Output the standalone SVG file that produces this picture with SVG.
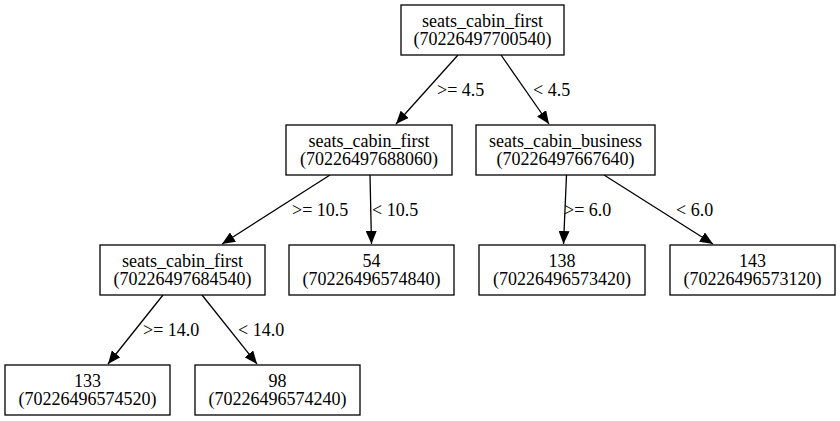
<svg xmlns="http://www.w3.org/2000/svg" width="840" height="421" viewBox="0 0 840 421">
<defs>
<style>
.box{fill:#fff;stroke:#000;stroke-width:1.3}
text{font-family:"Liberation Serif","Times New Roman",serif;font-size:18px;fill:#000}
.c{text-anchor:middle}
.e{stroke:#000;stroke-width:1.3;fill:none;marker-end:url(#ah)}
</style>
<marker id="ah" markerUnits="userSpaceOnUse" viewBox="0 0 13 11" refX="13" refY="5.5" markerWidth="13" markerHeight="11" orient="auto">
<path d="M0,0 L13,5.5 L0,11 z" fill="#000"/>
</marker>
</defs>
<rect width="840" height="421" fill="#fff"/>
<g id="connectors">
<line class="e" x1="458" y1="55" x2="396" y2="124"/>
<line class="e" x1="501" y1="55" x2="549" y2="124"/>
<line class="e" x1="330" y1="175" x2="222" y2="244"/>
<line class="e" x1="370" y1="175" x2="371.5" y2="244"/>
<line class="e" x1="566.5" y1="175" x2="563.5" y2="244"/>
<line class="e" x1="604" y1="175" x2="713" y2="244"/>
<line class="e" x1="163" y1="295" x2="108" y2="364"/>
<line class="e" x1="202" y1="295" x2="257" y2="364"/>
<text x="437" y="96">&gt;= 4.5</text>
<text x="533" y="96">&lt; 4.5</text>
<text x="292" y="216">&gt;= 10.5</text>
<text x="372" y="216">&lt; 10.5</text>
<text x="564" y="216">&gt;= 6.0</text>
<text x="676" y="216">&lt; 6.0</text>
<text x="143" y="336">&gt;= 14.0</text>
<text x="238" y="336">&lt; 14.0</text>
</g>
<g id="n70226497700540">
<rect class="box" x="401" y="5" width="163" height="50"/>
<text class="c" x="482.5" y="26.5">seats_cabin_first</text>
<text class="c" x="482.5" y="45">(70226497700540)</text>
</g>
<g id="n70226497688060">
<rect class="box" x="286" y="125" width="166" height="50"/>
<text class="c" x="369" y="146.5">seats_cabin_first</text>
<text class="c" x="369" y="165">(70226497688060)</text>
</g>
<g id="n70226497667640">
<rect class="box" x="476" y="125" width="179" height="50"/>
<text class="c" x="565.5" y="146.5">seats_cabin_business</text>
<text class="c" x="565.5" y="165">(70226497667640)</text>
</g>
<g id="n70226497684540">
<rect class="box" x="100" y="245" width="165" height="50"/>
<text class="c" x="182.5" y="266.5">seats_cabin_first</text>
<text class="c" x="182.5" y="285">(70226497684540)</text>
</g>
<g id="n70226496574840">
<rect class="box" x="289" y="245" width="165" height="50"/>
<text class="c" x="371.5" y="266.5">54</text>
<text class="c" x="371.5" y="285">(70226496574840)</text>
</g>
<g id="n70226496573420">
<rect class="box" x="479" y="245" width="166" height="50"/>
<text class="c" x="562" y="266.5">138</text>
<text class="c" x="562" y="285">(70226496573420)</text>
</g>
<g id="n70226496573120">
<rect class="box" x="670" y="245" width="165" height="50"/>
<text class="c" x="752.5" y="266.5">143</text>
<text class="c" x="752.5" y="285">(70226496573120)</text>
</g>
<g id="n70226496574520">
<rect class="box" x="5" y="365" width="165" height="50"/>
<text class="c" x="87.5" y="386.5">133</text>
<text class="c" x="87.5" y="405">(70226496574520)</text>
</g>
<g id="n70226496574240">
<rect class="box" x="195" y="365" width="165" height="50"/>
<text class="c" x="277.5" y="386.5">98</text>
<text class="c" x="277.5" y="405">(70226496574240)</text>
</g>
</svg>
